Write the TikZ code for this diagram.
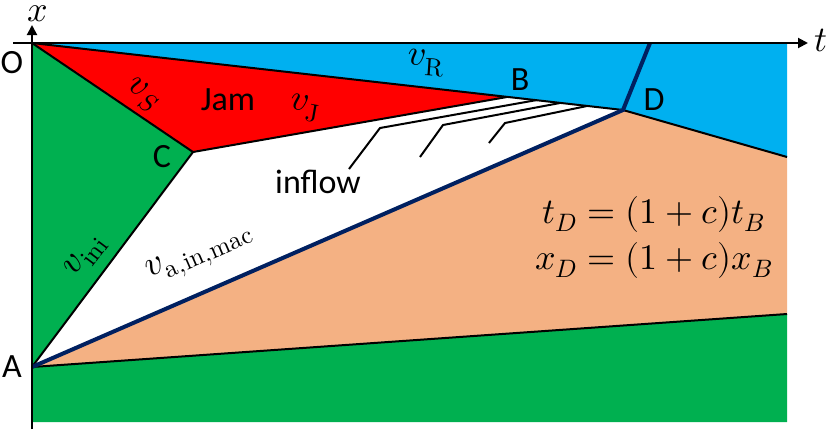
\documentclass[tikz,border=0pt]{standalone}
\usepackage{unicode-math}
\setmainfont{Carlito}
\setmathfont{Latin Modern Math}
\usetikzlibrary{arrows.meta}
\definecolor{cgreen}{RGB}{0,176,80}
\definecolor{cred}{RGB}{255,0,0}
\definecolor{cblue}{RGB}{0,176,240}
\definecolor{cpeach}{RGB}{244,177,131}
\definecolor{cnavy}{RGB}{0,32,96}
\begin{document}
\begin{tikzpicture}[x=1pt,y=-1pt,
  bnd/.style={draw=black,line width=2pt},
  shock/.style={draw=cnavy,line width=4pt},
  lbl/.style={inner sep=0pt,font=\fontsize{34}{40}\selectfont},
  mlbl/.style={inner sep=0pt,font=\fontsize{36}{40}\selectfont},
  eqn/.style={inner sep=0pt,font=\fontsize{36}{40}\selectfont}]
\useasboundingbox (0,0) rectangle (830,429);
% points
\coordinate (O) at (32,43);
\coordinate (A) at (32,367);
\coordinate (C) at (193,152);
\coordinate (B) at (507,97);
\coordinate (D) at (623,110);
\coordinate (E) at (787,157);
\coordinate (F) at (787,314);
\coordinate (G) at (787,422);
\coordinate (H) at (32,422);
\coordinate (TR) at (787,43);
\coordinate (Dt) at (650,43);
% regions
\fill[cgreen] (O) -- (C) -- (A) -- cycle;
\fill[cred] (O) -- (B) -- (C) -- cycle;
\fill[cblue] (O) -- (TR) -- (E) -- (D) -- cycle;
\fill[cpeach] (A) -- (D) -- (E) -- (F) -- cycle;
\fill[cgreen] (A) -- (F) -- (G) -- (H) -- cycle;
% boundaries
\draw[bnd] (O) -- (D);
\draw[bnd] (O) -- (C);
\draw[bnd] (C) -- (B);
\draw[bnd] (C) -- (A);
\draw[bnd] (A) -- (F);
\draw[bnd] (D) -- (E);
% inflow lines
\coordinate (i1a) at (537,100); \coordinate (i1b) at (380,128); \coordinate (i1c) at (349,169);
\coordinate (i2a) at (560,103); \coordinate (i2b) at (443,125); \coordinate (i2c) at (420,157);
\coordinate (i3a) at (587,106); \coordinate (i3b) at (505,123); \coordinate (i3c) at (489,143);
\draw[bnd] (i1a) -- (i1b) -- (i1c);
\draw[bnd] (i2a) -- (i2b) -- (i2c);
\draw[bnd] (i3a) -- (i3b) -- (i3c);
% shock
\draw[shock] (A) -- (D) -- (Dt);
% axes
\coordinate (xb) at (32,429); \coordinate (xt) at (32,25);
\coordinate (tl) at (13,43); \coordinate (tr) at (808,43);
\draw[line width=2pt,-{Triangle[length=10pt,width=10pt]}] (xb) -- (xt);
\draw[line width=2pt,-{Triangle[length=10pt,width=10pt]}] (tl) -- (tr);
% labels
\node[mlbl] (lx) at (38,14) {$x$};
\node[mlbl] (lt) at (821,40) {$t$};
\node[lbl] (lO) at (12,63) {O};
\node[lbl] (lC) at (162,157) {C};
\node[lbl] (lA) at (12,367) {A};
\node[lbl] (lB) at (520,80) {B};
\node[lbl] (lD) at (654,100) {D};
\node[lbl] (lJam) at (228,100) {Jam};
\node[lbl] (lin) at (318,182) {inflow};
\node[mlbl,rotate=-33] (vS) at (143,95) {$v_S$};
\node[mlbl,rotate=-10] (vJ) at (305,108) {$v_{\symup{J}}$};
\node[mlbl,rotate=-4] (vR) at (426,63) {$v_{\symup{R}}$};
\node[mlbl,rotate=53] (vini) at (86,256) {$v_{\symup{ini}}$};
\node[mlbl,rotate=23.5] (vain) at (200,254) {$v_{\symup{a,in,mac}}$};
\node[eqn] (e1) at (654,214) {$t_D=(1+c)t_B$};
\node[eqn] (e2) at (654,260) {$x_D=(1+c)x_B$};
\end{tikzpicture}
\end{document}
